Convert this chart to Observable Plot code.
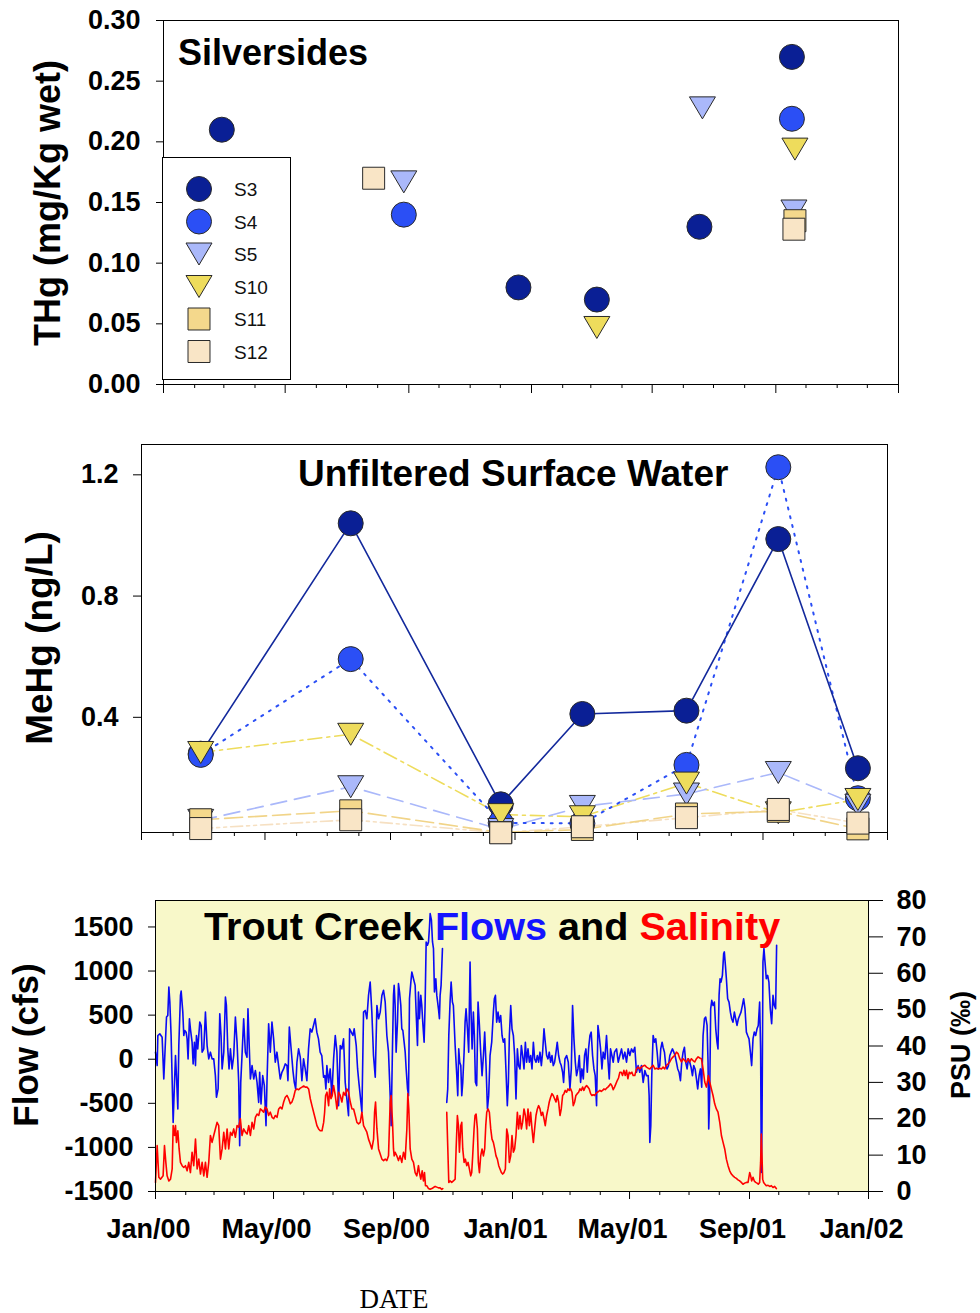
<!DOCTYPE html>
<html>
<head>
<meta charset="utf-8">
<script src="https://cdn.jsdelivr.net/npm/d3@7"></script>
<script src="https://cdn.jsdelivr.net/npm/@observablehq/plot@0.6"></script>
<style>
  html,body{margin:0;padding:0;background:#fff;}
  #wrap{position:relative;width:980px;height:1313px;overflow:hidden;font-family:"Liberation Sans",Arial,sans-serif;}
  #wrap > svg{position:absolute;left:0;}
</style>
</head>
<body>
<div id="wrap"></div>
<script>
// ================= DATA =================
const siteNames = ["S3", "S4", "S5", "S10", "S11", "S12"];

// --- Panel 1: Silversides THg (mg/Kg wet)
const fishSite = ["S3", "S12", "S4", "S5", "S3", "S3", "S10", "S3", "S5", "S3", "S4", "S10", "S5", "S11", "S12"];
const fishDate = ["2000-02-28", "2000-07-28", "2000-08-27", "2000-08-27", "2000-12-19", "2001-03-07", "2001-03-07",
                  "2001-06-17", "2001-06-20", "2001-09-17", "2001-09-17", "2001-09-20", "2001-09-19", "2001-09-20", "2001-09-19"];
const fishTHg  = [0.21, 0.17, 0.14, 0.167, 0.08, 0.07, 0.047, 0.13, 0.228, 0.27, 0.219, 0.194, 0.143, 0.135, 0.128];
const thgTicks = [0, 0.05, 0.10, 0.15, 0.20, 0.25, 0.30];

// --- Panel 2: Unfiltered surface water MeHg (ng/L)
const waterDates = ["2000-02-28", "2000-07-24", "2000-12-18", "2001-03-08", "2001-06-18", "2001-09-16", "2001-12-03"];
const meHgS3  = [0.28, 1.04, 0.113, 0.411, 0.422, 0.988, 0.232];
const meHgS4  = [0.276, 0.592, 0.052, 0.05, 0.243, 1.225, 0.133];
const meHgS5  = [0.06, 0.171, 0.03, 0.106, 0.147, 0.218, 0.11];
const meHgS10 = [0.284, 0.344, 0.079, 0.072, 0.183, 0.085, 0.129];
const meHgS11 = [0.062, 0.0915, 0.02, 0.03, 0.081, 0.09, 0.032];
const meHgS12 = [0.033, 0.062, 0.019, 0.039, 0.069, 0.096, 0.051];
const meHgTicks = [0.4, 0.8, 1.2];

// --- Panel 3: Trout Creek flows (cfs) and salinity (PSU); [day since 2000-01-01, value]
const seriesStart = "2000-01-01";
const flowReadings = [[0,80],[1.7,-72],[2.4,269],[4.4,288],[6.8,250],[8.5,-224],[11.3,478],[12.6,496],[13.7,819],[14.7,648],[16,269],[18.1,-716],[19.5,-262],[20.5,42],[21.5,-186],[22.9,-565],[23.9,155],[25.6,724],[26.3,773],[28,534],[29,269],[30,326],[31.4,307],[32.4,231],[33.4,4],[34.8,459],[35.8,345],[37.5,193],[38.6,-53],[39.9,193],[41,-72],[42,269],[43.3,117],[45.4,421],[46.8,383],[47.8,80],[49.5,117],[51.2,534],[52.9,155],[54.6,4],[56.3,80],[58,4],[59.7,4],[61.4,-186],[62.5,-432],[64.2,-337],[65.9,515],[67.2,269],[68.3,-110],[70,80],[71.7,705],[72.7,610],[74.1,117],[75.4,-110],[76.8,117],[78.5,-110],[80.2,42],[81.9,478],[83.6,193],[85.3,-262],[86.3,-982],[87.4,-262],[88.7,42],[90.4,459],[92.1,80],[93.8,23],[94.8,572],[96.2,117],[97.3,-224],[99,-72],[100.7,-224],[102.4,-129],[104.1,-262],[105.8,-489],[106.8,-148],[108.2,-508],[109.9,-186],[111.6,-299],[113.3,-754],[114.3,-262],[116,402],[117.7,80],[119.4,421],[121.1,231],[122.8,-34],[124.5,80],[126.2,-72],[127.9,-224],[129.6,-148],[131.3,-110],[133,-53],[134.8,-72],[135.8,-243],[137.2,364],[138.9,136],[140.9,-129],[142.3,-262],[143.7,-337],[145,-34],[146.7,117],[148.4,23],[150.1,-243],[151.8,4],[153.5,-110],[155.2,-243],[156.9,117],[158.6,345],[160.3,307],[162,383],[163.7,459],[165.4,307],[167.1,231],[168.8,80],[170.5,42],[172.3,-205],[173.6,-186],[174.7,-337],[175.7,-72],[177.4,-262],[179.1,-110],[180.8,-413],[182.6,4],[184.3,269],[186,80],[187.7,-527],[189.4,155],[191.1,117],[192.8,231],[194.5,-262],[196.2,-451],[197.9,-641],[199,345],[200.7,307],[202.4,269],[203.7,345],[205.8,155],[207.2,-110],[208.5,-262],[209.9,-413],[211.6,-603],[213.3,534],[215,553],[216.7,459],[218.4,724],[220.1,875],[221.8,534],[223.5,42],[225.3,-205],[227,610],[228.7,459],[230.4,534],[232.1,724],[233.8,781],[235.5,648],[237.2,269],[238.9,80],[240.6,-413],[241.6,-754],[243,155],[244,724],
[244.7,837],[245.7,610],[246.7,80],[248.1,421],[249.1,857],[250.2,762],[251.5,610],[252.5,345],[253.6,326],[254.9,193],[256,80],[257,-110],[258.4,-337],[259.4,-413],[260.4,686],[261.8,875],[262.8,989],[264.5,913],[266.2,837],[267.2,534],[268.6,155],[269.6,762],[270.6,459],[272,724],[273,610],[274,421],[275.4,193],[276.4,610],[277.5,1330],[278.8,1292],[279.9,1330],[280.9,1501],[281.6,1652],[282.9,1577],[284,1330],[285,1254],[286,762],[287.4,913],[288.4,724],[290.1,572],[291.1,459],[291.8,724],[292.8,837],[294.2,1254],[296,null],
[298.6,-489],[299.6,-337],[300.7,269],[302,648],[303.1,875],[304.4,648],[305.4,610],[307.2,155],[308.9,-186],[309.9,-413],[310.9,117],[311.9,-34],[313,-72],[314,-413],[315,-262],[316.4,80],[317.4,421],[318.4,572],[319.8,345],[321.1,80],[322.5,1103],[323.5,534],[324.6,117],[325.9,534],[326.9,269],[328,-262],[329.3,-299],[330.7,648],[332.1,383],[333.4,80],[334.8,-186],[336.2,42],[337.5,307],[338.9,-72],[340.3,-565],[341.6,-413],[343,42],[344.7,193],[346.4,534],[347.4,686],[348.5,724],[349.8,421],[351.2,534],[352.5,421],[353.9,496],[355.3,269],[356.6,193],[358,231],[359.4,-148],[360.7,-527],[361.8,-262],[362.8,269],[364.2,610],[365.5,345],[366.9,269],[368.2,42],[369.6,-451],[371,117],[372.3,-72],[373.7,-110],[375.1,155],[376.4,42],[377.8,-110],[379.2,193],[380.5,-34],[381.9,117],[383.3,-34],[384.6,42],[386,-110],[387.4,193],[388.7,4],[390.1,-34],[391.5,42],[392.8,-34],[394.2,80],[395.6,-72],[396.9,80],[398.3,345],[399.6,193],[401,42],[402.4,4],[403.7,80],[405.1,-34],[406.5,42],[407.8,-72],[409.2,-34],[410.6,80],[411.9,193],[413.3,42],[414.7,-34],[416,-72],[417.4,-148],[418.4,-262],[419.8,4],[421.5,42],[423.2,-34],[424.9,-337],[426.3,-110],[427.6,610],[429,231],[430.4,-34],[431.7,-186],[433.1,-110],[434.5,42],[435.8,-262],[437.2,-110],[438.6,-224],[439.9,42],[441.3,117],[442.7,-148],[444,117],[445.4,269],[446.7,307],[448.1,42],[449.5,-110],[450.8,-186],[452.2,-527],[453.6,383],[454.9,269],[456.3,117],[457.7,-110],[459,80],[460.7,4],[462.4,269],[463.8,4],[465.2,-224],[466.5,117],[467.9,42],[469.3,-34],[470.6,80],[472.7,117],[474.4,-34],[476.1,42],[477.8,117],[479.5,4],[481.2,80],[482.9,-34],[484.6,117],[486.3,42],[488,117],[489.7,80],
[491.4,136],[493.1,-148],[494.8,-72],[496.5,-148],[498.2,-72],[500,-262],[501.7,-129],[503.4,-186],[505.1,-186],[506.1,-413],[506.8,-944],[507.8,-754],[508.8,-186],[510.2,269],[511.6,193],[512.9,231],[514.3,80],[515.7,-110],[517,-72],[518,117],[519.4,193],[520.4,136],[521.8,80],[523.2,-72],[524.5,-110],[525.9,-72],[527.3,42],[528.6,80],[530,117],[531.4,80],[532.7,42],[534.1,-34],[535.4,-110],[536.8,-148],[538.2,-243],[539.5,-34],[540.9,80],[542.3,136],[543.6,-34],[545,-110],[546.4,4],[547.7,-34],[549.1,-91],[550.5,-186],[551.8,-72],[553.2,-110],[554.6,-224],[555.9,-337],[557.3,-186],[558.7,-110],[560,-318],[561.4,269],[562.8,459],[564.1,478],[565.5,383],[566.5,-34],[567.2,-792],[568.2,-413],[569.2,572],[570.3,667],[571.6,610],[573,648],[574.4,345],[575.7,193],[576.7,117],[577.8,724],[578.8,913],[579.8,875],[581.2,951],[582.5,1198],[583.2,1217],[584.3,1065],[585.3,913],[586.6,686],[588,648],[589.4,534],[590.7,459],[592.1,421],[593.5,534],[594.8,459],[596.2,383],[597.6,459],[598.9,496],[600.3,534],[601.7,610],[603,686],[604.4,572],[605.8,307],[607.1,269],[608.5,231],[609.9,80],[611.2,-72],[612.6,231],[613.9,307],[615.3,269],[616.7,345],[618,383],[619.4,648],[620.4,117],[621.1,-1285],[621.8,-792],[622.8,1103],[623.8,1254],[624.9,1103],[626.2,913],[627.6,951],[628.9,875],[630.3,572],[631.7,402],[633.1,724],[634.4,610],[635.8,572],[636.8,1292]];

const salinityReadings = [[0,2.5],[1.7,12.6],[3.4,3.9],[5.1,3.4],[7.8,4.3],[9.2,12.6],[10.6,8],[11.9,4.3],[13.7,2.9],[15.4,3.4],[17.1,6.2],[18.1,18.1],[19.5,15.4],[20.5,18.1],[21.5,13.5],[22.9,16.7],[24.2,11.7],[25.6,8],[27.3,7.1],[29,6.6],[30.7,7.1],[32.4,5.7],[34.1,8],[35.8,5.2],[37.5,10.8],[39.2,7.1],[41,14.4],[42.7,6.2],[44.4,8.9],[46.1,4.8],[47.8,8],[49.5,4.3],[51.2,8],[52.9,3.9],[54.6,8],[56.3,15.4],[58,13.5],[59.7,15.4],[61.4,17.2],[63.1,19],[64.8,18.1],[66.6,8.9],[68.3,11.7],[70,16.3],[71.7,11.7],[73.4,17.2],[75.1,11.7],[76.8,16.3],[78.5,15.4],[80.2,17.2],[81.9,14.9],[83.6,18.1],[85.3,17.7],[87,20],[88.7,15.4],[90.4,17.2],[92.2,16.3],[93.9,15.8],[95.6,18.1],[97.3,15.4],[99,19],[100.7,17.2],[102.4,20.4],[104.1,21.3],[105.8,20.9],[107.5,22.7],[109.2,22.3],[110.9,21.8],[112.6,23.2],[114.3,22.7],[116,20.9],[117.7,21.8],[119.5,20.4],[121.2,20],[122.9,20.9],[124.6,20.4],[126.3,22.7],[128,23.2],[129.7,22.7],[131.4,24.6],[133.1,25.9],[134.8,26.4],[136.5,25.5],[138.2,24.1],[139.9,24.6],[141.6,25.9],[143.3,27.8],[145.1,28.2],[146.8,28],[148.5,28.4],[150.2,28.7],[151.9,29],[153.6,28.7],[155.3,28.7],[157,28.2],[158.7,25.5],[160.4,23.6],[162.1,21.8],[163.8,20],[165.5,18.1],[167.2,17.2],[168.9,16.7],[170.7,16.7],[172.4,19],[173.4,21.8],[174.4,26.4],[175.8,27.3],[177.5,23.6],[178.5,28.2],[179.9,25.5],[181.2,26.4],[182.6,29.1],[184.3,26.4],[186,22.7],[187.7,27.3],[189.4,26.4],[191.1,24.6],[192.8,27.3],[194.5,26.4],[196.2,28.2],[197.9,27.3],[199.7,24.6],[201.4,22.7],[203.1,22.7],[204.8,20.9],[206.5,19],[208.2,18.6],[209.9,19],[211.6,21.8],[213.3,18.1],[215,17.2],[216.7,16.3],[218.4,14.4],[220.1,13.1],[221.8,11.7],[223.6,14.4],[224.6,21.8],[225.6,24.6],[227,17.2],[228.7,11.7],[230.4,10.3],[232.1,8.9],[233.8,8.5],[235.5,8.9],[237.2,8.5],[238.9,9.8],[240.6,24.6],[241.6,26.4],[243,19],[244,11.7],
[244.7,9.8],[245.7,10.8],[247.4,9.8],[249.1,8.5],[250.8,9.8],[252.5,8],[254.3,10.8],[256,8.9],[257.7,17.2],[258.7,26.9],[259.7,22.7],[261.1,11.7],[262.8,8.9],[264.5,8],[266.2,5.2],[267.9,4.3],[269.6,7.1],[270.6,5.2],[272,3.4],[273.4,5.7],[274.7,2.9],[275.8,5.2],[276.8,1.6],[278.1,1.6],[279.9,0.8],[281.6,0.6],[283.3,0.8],[285,1.1],[286.7,1.4],[288.4,1.2],[290.1,1],[291.8,1],[293.5,0.6],[294.5,0.8],[296,null],
[298.6,21.8],[299.6,12.6],[300.7,2.5],[302,2.9],[303.7,2.5],[305.4,2.9],[307.2,3.4],[308.2,11.7],[309.5,20.9],[310.6,18.1],[311.6,10.8],[313,18.1],[314,19],[315,11.7],[316.4,8],[317.7,8.9],[319.1,7.1],[320.5,8],[321.8,6.2],[323.2,4.3],[324.2,5.2],[325.2,9.8],[326.6,17.2],[327.6,20.9],[328.7,21.3],[330,17.2],[331,8],[332.1,5.2],[333.4,9.8],[334.8,11.7],[336.2,9.8],[337.5,11.7],[338.6,18.1],[339.6,21.8],[340.9,22.7],[342.3,21.8],[343.7,17.2],[345,14.4],[346.4,13.5],[347.8,11.7],[349.1,9.8],[350.5,8.9],[351.9,7.1],[353.2,6.2],[354.6,5.2],[355.9,4.8],[357.3,5.2],[358.7,6.2],[360.1,17.2],[361.4,15.4],[362.8,8],[364.2,9.8],[365.5,15.4],[366.9,10.8],[368.2,11.7],[369.6,15.4],[371,21.8],[372.3,17.2],[373.7,20.9],[375.1,17.2],[376.4,19],[377.8,22.7],[379.2,20.9],[380.5,17.2],[381.9,22.7],[383.3,18.1],[384.6,21.8],[386,17.2],[387.4,13.5],[388.7,17.2],[390.1,20.9],[391.5,22.7],[392.8,23.6],[394.2,22.7],[395.6,20.9],[396.9,21.8],[398.3,20],[399.6,18.1],[401,20.9],[402.4,22.7],[403.7,24.6],[405.1,25.9],[406.5,26.9],[407.8,26.4],[409.2,25.5],[410.6,24.6],[411.9,26.4],[413.3,24.6],[414.7,20.9],[416,22.7],[417.4,26.4],[418.8,26.9],[420.1,27.8],[421.5,27.3],[422.9,28.2],[424.2,27.8],[425.6,28.2],[427,27.3],[428.3,23.6],[429.7,24.6],[431,26.4],[432.4,26.9],[433.8,27.3],[435.1,28.2],[436.5,27.8],[437.9,28.7],[439.2,27.8],[440.6,28.7],[442,29.1],[443.3,28.7],[444.7,28.2],[446.1,26.9],[447.4,26.4],[448.8,26.6],[450.2,26.4],[451.5,26.9],[452.9,27.3],[454.3,27.5],[455.6,27.8],[457,27.5],[458.4,27.8],[459.7,28.2],[461.1,28],[462.5,28.4],[463.8,28.7],[465.2,29.1],[466.5,29.6],[467.9,29.1],[469.3,28],[470.6,28.7],[472,29.6],[473.4,30.5],[474.7,31.2],[476.1,32.8],[477.5,32.8],[478.8,31.9],[480.2,33.3],[481.6,31.9],[482.9,33.3],[484.3,31],[485.7,32.8],[487,32.4],[488.4,32.8],[489.7,31.9],
[491.4,31.9],[493.1,33.7],[494.8,34.2],[496.5,33.7],[498.2,34.2],[500,34.5],[501.7,34.7],[503.4,34.2],[505.1,33.9],[506.8,33.7],[508.5,34.2],[510.2,34.7],[511.9,33.7],[513.6,33.9],[515.3,33.7],[517,33.9],[518.7,33.7],[520.4,34.2],[522.1,33.7],[523.8,34.7],[525.6,35.1],[527.3,35.6],[529,36.5],[530.7,37],[532.4,37.4],[534.1,38.3],[535.8,37.9],[537.5,36.5],[539.2,35.6],[540.9,36.5],[542.6,36],[544.3,35.6],[546,36.5],[547.7,35.6],[549.4,36.5],[551.1,36],[552.9,35.6],[554.6,36.5],[556.3,37],[558,36.7],[559.7,36.5],[561.4,33.7],[563.1,30.1],[564.8,28.7],[565.8,30.1],[566.8,31.9],[568.2,30.1],[569.9,28.2],[571.6,26.4],[573.3,24.1],[575,22.7],[576.7,21.8],[578.5,19],[580.2,15.4],[581.9,13.5],[583.6,11.7],[585.3,8.9],[587,7.1],[588.7,5.7],[590.4,4.8],[592.1,4.3],[593.8,3.9],[595.5,3.6],[597.2,3.2],[598.9,2.9],[600.6,2.5],[602.3,2],[604,2.3],[605.8,2.5],[607.5,2.5],[609.2,5.2],[610.2,4.3],[611.2,2.9],[612.6,3.9],[613.9,2.9],[615.3,2.5],[616.7,2.3],[618,2],[619.4,2.5],[620.4,8],[621.1,15.8],[621.8,9.8],[622.5,3.4],[623.5,2.5],[624.9,2],[626.2,1.6],[628,1.7],[629.7,1.4],[631.4,1.6],[633.1,1.1],[634.8,1.4],[636.5,0.8]];

const flowTicks = [-1500, -1000, -500, 0, 500, 1000, 1500];
const psuTicks = [0, 10, 20, 30, 40, 50, 60, 70, 80];

// ================= STYLE =================
const triDown = {
  draw(ctx, size) {
    const r = Math.sqrt(size / Math.PI);
    const w = r * 1.04, h = r * 0.88;
    ctx.moveTo(-w, -h); ctx.lineTo(w, -h); ctx.lineTo(0, h); ctx.closePath();
  }
};
const siteStyle = {
  S3:  {fill: "#0a1f95", symbol: "circle", r: 12.5, line: "#13299c", dash: null,            lw: 1.6},
  S4:  {fill: "#2b4ff5", symbol: "circle", r: 12.5, line: "#2b4ff5", dash: "2,7",           lw: 2},
  S5:  {fill: "#aab8fa", symbol: triDown,  r: 12.5, line: "#aab8fa", dash: "16,8",          lw: 1.6},
  S10: {fill: "#eedc5c", symbol: triDown,  r: 12.5, line: "#eedc5c", dash: "14,5,3,5",      lw: 1.6},
  S11: {fill: "#f4d88c", symbol: "square", r: 12.4, line: "#f1d488", dash: "18,6",          lw: 1.6},
  S12: {fill: "#f9e5c6", symbol: "square", r: 12.4, line: "#f6e0c2", dash: "12,4,3,4,3,4",  lw: 1.6}
};
const markerStroke = "#2a2a2a";
const FONT = "'Liberation Sans', Arial, sans-serif";
const baseStyle = {fontFamily: FONT, fontSize: "27px", fontWeight: "bold", color: "#000", background: "transparent", overflow: "visible"};

// ================= HELPERS =================
const startMs = Date.parse(seriesStart + "T00:00:00Z");
const dayToDate = d => new Date(startMs + d * 864e5);
const xDomain = [new Date("2000-01-01T00:00:00Z"), new Date("2002-01-01T00:00:00Z")];
const monthTicks = d3.utcMonth.range(xDomain[0], new Date("2002-01-02T00:00:00Z"));
const majorTicks = monthTicks.filter((d, i) => i % 4 === 0);
const minorTicks = monthTicks.filter((d, i) => i % 4 !== 0);
const blank = () => "";

function xTickAxes(majorSize) {
  return [
    Plot.axisX(minorTicks, {tickSize: 4, tickFormat: blank, label: null}),
    Plot.axisX(majorTicks, {tickSize: majorSize, tickFormat: blank, label: null})
  ];
}
function siteDots(data, yKey) {
  return siteNames.map(s => Plot.dot(data.filter(d => d.site === s), {
    x: "date", y: yKey, r: siteStyle[s].r, symbol: siteStyle[s].symbol,
    fill: siteStyle[s].fill, stroke: markerStroke, strokeWidth: 1
  }));
}

const wrap = document.getElementById("wrap");
function place(svg, top) { svg.style.position = "absolute"; svg.style.top = top + "px"; svg.style.left = "0px"; wrap.appendChild(svg); }

// ================= PANEL 1 =================
const fish = fishSite.map((s, i) => ({site: s, date: new Date(fishDate[i] + "T00:00:00Z"), thg: fishTHg[i]}));
const p1 = Plot.plot({
  width: 980, height: 400,
  marginLeft: 163, marginRight: 82, marginTop: 20, marginBottom: 16,
  x: {type: "utc", domain: xDomain},
  y: {domain: [0, 0.30]},
  style: baseStyle,
  marks: [
    Plot.frame({stroke: "#000"}),
    Plot.axisY(thgTicks, {tickSize: 7, tickPadding: 16, tickFormat: d3.format(".2f"), label: null}),
    ...xTickAxes(9),
    ...siteDots(fish, "thg")
  ]
});
place(p1, 0);

// ================= PANEL 2 =================
const meHgBySite = {S3: meHgS3, S4: meHgS4, S5: meHgS5, S10: meHgS10, S11: meHgS11, S12: meHgS12};
const water = siteNames.flatMap(s => waterDates.map((d, i) => ({site: s, date: new Date(d + "T00:00:00Z"), v: meHgBySite[s][i]})));
const p2 = Plot.plot({
  width: 980, height: 440,
  marginLeft: 141, marginRight: 93, marginTop: 44, marginBottom: 8,
  x: {type: "utc", domain: xDomain},
  y: {domain: [0.02, 1.3]},
  style: baseStyle,
  marks: [
    ...siteNames.slice().reverse().map(s => Plot.line(water.filter(d => d.site === s), {
      x: "date", y: "v", stroke: siteStyle[s].line, strokeWidth: siteStyle[s].lw,
      strokeDasharray: siteStyle[s].dash || undefined
    })),
    Plot.frame({stroke: "#000"}),
    Plot.axisY(meHgTicks, {tickSize: 8, tickPadding: 15, tickFormat: d3.format(".1f"), label: null}),
    ...xTickAxes(8),
    ...siteDots(water, "v")
  ]
});
place(p2, 400);

// ================= PANEL 3 =================
const psuToFlow = p => -1500 + p * (3300 / 80);
const flowToPsu = f => (f + 1500) * (80 / 3300);
const flow = flowReadings.map(([d, v]) => ({date: dayToDate(d), v}));
const sal = salinityReadings.map(([d, v]) => ({date: dayToDate(d), v: v == null ? null : psuToFlow(v)}));
const p3 = Plot.plot({
  width: 980, height: 473,
  marginLeft: 155, marginRight: 112, marginTop: 60, marginBottom: 122,
  x: {type: "utc", domain: xDomain},
  y: {domain: [-1500, 1800]},
  style: baseStyle,
  marks: [
    Plot.frame({fill: "#f8f8c9", stroke: null}),
    Plot.line(flow, {x: "date", y: "v", stroke: "#0a0af5", strokeWidth: 1.6}),
    Plot.line(sal, {x: "date", y: "v", stroke: "#ff0000", strokeWidth: 1.6}),
    Plot.frame({stroke: "#000"}),
    Plot.axisY(flowTicks, {anchor: "left", tickSize: 7, tickPadding: 15, tickFormat: d => String(d), label: null}),
    Plot.axisY(psuTicks.map(psuToFlow), {anchor: "right", tickSize: 14, tickPadding: 14, tickFormat: f => String(Math.round(flowToPsu(f))), label: null}),
    ...xTickAxes(8),
    Plot.axisX(majorTicks, {tickSize: 0, tickPadding: 27, dx: -7, tickFormat: d3.utcFormat("%b/%y"), label: null})
  ]
});
place(p3, 840);

// ================= OVERLAY TEXT, LEGEND =================
const ov = d3.create("svg").attr("width", 980).attr("height", 1313)
  .style("position", "absolute").style("top", "0px").style("left", "0px").style("pointer-events", "none")
  .attr("font-family", FONT);

function title(x, y, size, parts) {
  const t = ov.append("text").attr("x", x).attr("y", y).attr("font-size", size).attr("font-weight", "bold");
  parts.forEach(([txt, col]) => t.append("tspan").attr("fill", col).text(txt));
}
title(178, 65, 36, [["Silversides", "#000"]]);
title(298, 486, 37, [["Unfiltered Surface Water", "#000"]]);
title(204, 940, 39.6, [["Trout Creek ", "#000"], ["Flows", "#1414ff"], [" and ", "#000"], ["Salinity", "#ff0000"]]);

function vlabel(x, y, size, txt) {
  ov.append("text").attr("transform", `translate(${x},${y}) rotate(-90)`)
    .attr("text-anchor", "middle").attr("font-size", size).attr("font-weight", "bold").attr("fill", "#000").text(txt);
}
vlabel(60, 203, 36, "THg (mg/Kg wet)");
vlabel(52, 638, 37, "MeHg (ng/L)");
vlabel(38, 1045, 35, "Flow (cfs)");
vlabel(970, 1045, 27, "PSU (\u2030)");

ov.append("text").attr("x", 394).attr("y", 1308).attr("text-anchor", "middle")
  .attr("font-family", "'Liberation Serif', 'Times New Roman', serif").attr("font-size", 27).attr("fill", "#000").text("DATE");

// legend
const lg = ov.append("g");
lg.append("rect").attr("x", 162.5).attr("y", 157.5).attr("width", 128).attr("height", 222)
  .attr("fill", "#fff").attr("stroke", "#000").attr("stroke-width", 1);
siteNames.forEach((s, i) => {
  const cy = 189 + i * 32.5, st = siteStyle[s];
  if (st.symbol === "circle") {
    lg.append("circle").attr("cx", 199).attr("cy", cy).attr("r", st.r).attr("fill", st.fill).attr("stroke", markerStroke);
  } else {
    const type = st.symbol === "square" ? d3.symbolSquare : st.symbol;
    lg.append("path").attr("transform", `translate(199,${cy})`)
      .attr("d", d3.symbol(type, st.r * st.r * Math.PI)()).attr("fill", st.fill).attr("stroke", markerStroke);
  }
  lg.append("text").attr("x", 234).attr("y", cy + 7).attr("font-size", 19).attr("fill", "#111").text(s);
});
wrap.appendChild(ov.node());
</script>
</body>
</html>
